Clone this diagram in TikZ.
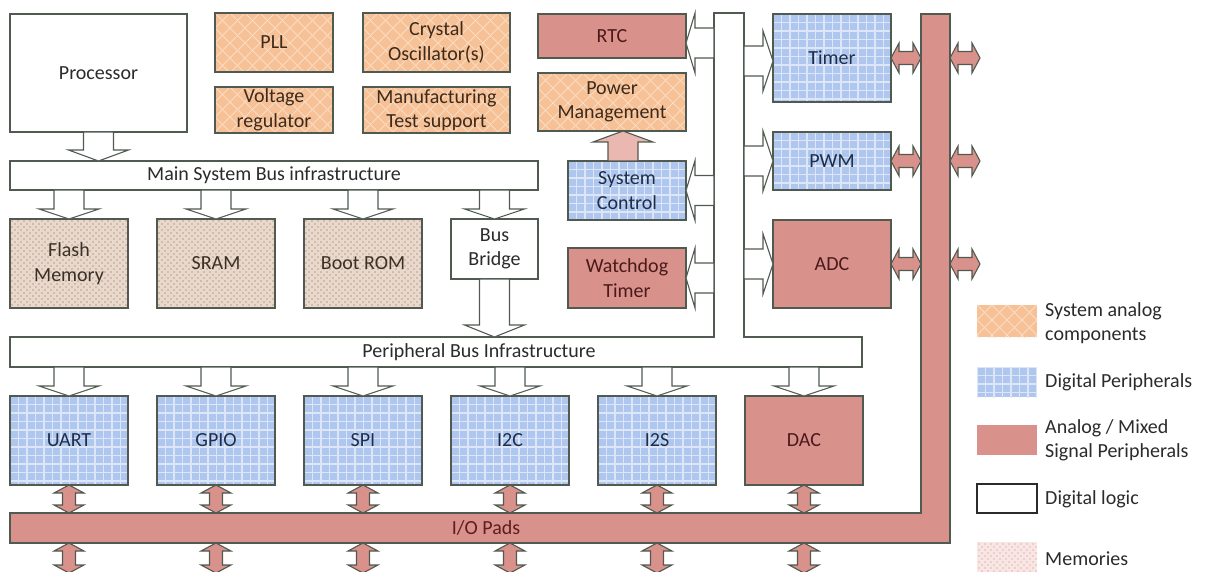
\documentclass[tikz,border=0pt]{standalone}
\usepackage{fontspec}
\setmainfont{Carlito}
\usetikzlibrary{calc}
\definecolor{bord}{HTML}{505A50}
\definecolor{anfill}{HTML}{D9918B}
\definecolor{orfill}{HTML}{F6C197}
\definecolor{orline}{HTML}{FBDCC2}
\definecolor{blfill}{HTML}{AFC7EE}
\definecolor{blline}{HTML}{DCE6F6}
\definecolor{memfill}{HTML}{E9D8CC}
\definecolor{memdot}{HTML}{BC9D8D}
\definecolor{lgmemfill}{HTML}{F8E6E4}
\definecolor{lgmemdot}{HTML}{E4B7B3}
\definecolor{pmarrow}{HTML}{EBB7B1}
\definecolor{txtdark}{HTML}{2B2B2B}
\definecolor{antext}{HTML}{4A1A1A}
\definecolor{ortext}{HTML}{3D2A1A}
\definecolor{bltext}{HTML}{1E2E4A}
\definecolor{memtext}{HTML}{3A3025}
\definecolor{iotext}{HTML}{5C1E1E}

\newcommand\hollowarrow[4][]{%
  \path #2 coordinate (hAs) #3 coordinate (hAe);
  \path ($(hAe)!#4!(hAs)$) coordinate (hAh);
  \draw[harrow,#1] ($(hAs)!15pt!90:(hAe)$) -- ($(hAh)!15pt!90:(hAe)$) -- ($(hAh)!30pt!90:(hAe)$) -- (hAe)
     -- ($(hAh)!30pt!-90:(hAe)$) -- ($(hAh)!15pt!-90:(hAe)$) -- ($(hAs)!15pt!-90:(hAe)$) -- cycle;}
\newcommand\dblarrow[2]{%
  \path #1 coordinate (dAs) #2 coordinate (dAe);
  \path ($(dAs)!8pt!(dAe)$) coordinate (dAa) ($(dAe)!8pt!(dAs)$) coordinate (dAb);
  \draw[parrow] (dAs) -- ($(dAa)!15pt!90:(dAe)$) -- ($(dAa)!6.5pt!90:(dAe)$) -- ($(dAb)!6.5pt!90:(dAe)$)
     -- ($(dAb)!15pt!90:(dAe)$) -- (dAe) -- ($(dAb)!15pt!-90:(dAe)$) -- ($(dAb)!6.5pt!-90:(dAe)$)
     -- ($(dAa)!6.5pt!-90:(dAe)$) -- ($(dAa)!15pt!-90:(dAe)$) -- cycle;}

\begin{document}
\begin{tikzpicture}[x=1pt,y=-1pt,
  every node/.style={font=\fontsize{20}{24.5}\selectfont},
  bnode/.style={inner sep=0pt, outer sep=0pt},
  busline/.style={draw=bord, line width=1.1pt},
  box/.style={draw=bord, line width=1.1pt, inner sep=0pt, outer sep=0pt, align=center},
  digl/.style={box, fill=white, text=txtdark},
  ana/.style={box, fill=anfill, text=antext},
  orpat/.style={fill=orfill, path picture={
     \foreach \i in {-135,-120,...,300}{
       \draw[orline, line width=0.9pt] ([xshift=\i pt]path picture bounding box.north west) -- ++(140,140);
       \draw[orline, line width=0.9pt] ([xshift=\i pt]path picture bounding box.north west) -- ++(-140,140);}}},
  blpat/.style={fill=blfill, path picture={
     \foreach \i in {0,8.5,...,160}{
       \draw[blline, line width=1.5pt] ([xshift=\i pt]path picture bounding box.north west) -- ++(0,130);
       \draw[blline, line width=1.5pt] ([yshift=-\i pt]path picture bounding box.north west) -- ++(160,0);}}},
  mempat/.style={fill=memfill, path picture={
     \foreach \xx in {2,8,...,128}{\foreach \yy in {2,8,...,98}{
       \fill[memdot] ([shift={(\xx pt,-\yy pt)}]path picture bounding box.north west) circle (0.8pt);
       \fill[memdot] ([shift={(\xx pt+3pt,-\yy pt-3pt)}]path picture bounding box.north west) circle (0.8pt);}}}},
  lgmempat/.style={fill=lgmemfill, path picture={
     \foreach \xx in {2,8,...,62}{\foreach \yy in {2,8,...,38}{
       \fill[lgmemdot] ([shift={(\xx pt,-\yy pt)}]path picture bounding box.north west) circle (0.8pt);
       \fill[lgmemdot] ([shift={(\xx pt+3pt,-\yy pt-3pt)}]path picture bounding box.north west) circle (0.8pt);}}}},
  sysa/.style={box, orpat, text=ortext},
  digp/.style={box, blpat, text=bltext},
  mem/.style={box, mempat, text=memtext},
  harrow/.style={draw=bord, line width=1.1pt, fill=white, line join=miter},
  parrow/.style={draw=bord, line width=1.1pt, fill=anfill, line join=miter},
  swatch/.style={inner sep=0pt, outer sep=0pt, minimum width=60pt},
  lgtext/.style={anchor=west, align=left, inner sep=0pt, text=txtdark}
]
\useasboundingbox[fill=white] (0,0) rectangle (1211,572);

% ---------- peripheral bus + vertical bus (one outline)
\node[bnode, minimum width=852pt, minimum height=30pt] (pbus) at (436,352) {};
\node[bnode, minimum width=30pt, minimum height=354pt] (vbus) at (729,190) {};
\draw[busline, fill=white] (pbus.north west) -- (vbus.west |- pbus.north) -- (vbus.north west) -- (vbus.north east)
   -- (vbus.east |- pbus.north) -- (pbus.north east) -- (pbus.south east) -- (pbus.south west) -- cycle;
\node[text=txtdark] (pbuslbl) at (479,352) {Peripheral Bus Infrastructure};

% ---------- I/O pads + right bar (one outline)
\node[bnode, minimum width=940pt, minimum height=30pt] (iopads) at (480,528) {};
\node[bnode, minimum width=29pt, minimum height=529pt] (rbar) at (935.5,278.5) {};
\draw[busline, fill=anfill] (iopads.north west) -- (rbar.west |- iopads.north) -- (rbar.north west) -- (rbar.north east)
   -- (rbar.south east) -- (iopads.south west) -- cycle;
\node[text=iotext] (iolbl) at (486,528) {I/O Pads};

% ---------- top-left blocks
\node[digl, minimum width=177pt, minimum height=118pt] (proc) at (98.5,73) {Processor};
\node[sysa, minimum width=118pt, minimum height=59pt] (pll) at (274,42.5) {PLL};
\node[sysa, minimum width=147pt, minimum height=59pt] (xtal) at (436.5,42.5) {Crystal\\Oscillator(s)};
\node[sysa, minimum width=118pt, minimum height=46pt] (vreg) at (274,110) {Voltage\\regulator};
\node[sysa, minimum width=147pt, minimum height=46pt] (mfg) at (436.5,110) {Manufacturing\\Test support};
\node[ana, minimum width=148pt, minimum height=44pt] (rtc) at (612,36) {RTC};
\node[sysa, minimum width=148pt, minimum height=58pt] (pm) at (612,102) {Power\\Management};
\node[digp, minimum width=118pt, minimum height=59pt] (sysc) at (627,190.5) {System\\Control};
\node[ana, minimum width=118pt, minimum height=60pt] (wdt) at (627,278) {Watchdog\\Timer};
\node[digp, minimum width=118pt, minimum height=88pt] (timer) at (832,58) {Timer};
\node[digp, minimum width=118pt, minimum height=58pt] (pwm) at (832,161) {PWM};
\node[ana, minimum width=118pt, minimum height=88pt] (adc) at (832,264) {ADC};

% ---------- main bus and memories
\node[digl, minimum width=528pt, minimum height=29pt] (mbus) at (274,175.5) {Main System Bus infrastructure};
\node[mem, minimum width=118pt, minimum height=89pt] (flash) at (69,263.5) {Flash\\Memory};
\node[mem, minimum width=118pt, minimum height=89pt] (sram) at (216,263.5) {SRAM};
\node[mem, minimum width=118pt, minimum height=89pt] (brom) at (363,263.5) {Boot ROM};
\node[digl, minimum width=87pt, minimum height=60pt] (bridge) at (494.5,249) {Bus\\Bridge};

% ---------- peripherals
\node[digp, minimum width=118pt, minimum height=89pt] (uart) at (69,440.5) {UART};
\node[digp, minimum width=118pt, minimum height=89pt] (gpio) at (216,440.5) {GPIO};
\node[digp, minimum width=118pt, minimum height=89pt] (spi) at (363,440.5) {SPI};
\node[digp, minimum width=118pt, minimum height=89pt] (itc) at (510,440.5) {I2C};
\node[digp, minimum width=118pt, minimum height=89pt] (its) at (657,440.5) {I2S};
\node[ana, minimum width=118pt, minimum height=89pt] (dac) at (804,440.5) {DAC};

% ---------- hollow block arrows
\hollowarrow{(proc.south)}{(proc.south |- mbus.north)}{11pt}
\foreach \n in {flash,sram,brom,bridge}{\hollowarrow{(\n.north |- mbus.south)}{(\n.north)}{10pt}}
\hollowarrow{(bridge.south)}{(bridge.south |- pbus.north)}{12pt}
\foreach \n in {uart,gpio,spi,itc,its,dac}{\hollowarrow{(\n.north |- pbus.south)}{(\n.north)}{10pt}}
\coordinate (rtcin) at ([yshift=-7pt]rtc.east);
\hollowarrow{(vbus.west |- rtcin)}{(rtcin)}{9pt}
\hollowarrow{(vbus.west |- sysc.east)}{(sysc.east)}{9pt}
\hollowarrow{(vbus.west |- wdt.east)}{(wdt.east)}{9pt}
\coordinate (tmin) at ([yshift=-3pt]timer.west);
\hollowarrow{(vbus.east |- tmin)}{(tmin)}{10pt}
\hollowarrow{(vbus.east |- pwm.west)}{(pwm.west)}{10pt}
\hollowarrow{(vbus.east |- adc.west)}{(adc.west)}{10pt}
\coordinate (scup) at ([xshift=-4pt]sysc.north);
\hollowarrow[fill=pmarrow]{(scup)}{(scup |- pm.south)}{11pt}

% ---------- pink double arrows
\foreach \n in {timer,pwm,adc}{
  \dblarrow{(\n.east)}{(\n.east -| rbar.west)}
  \coordinate (\n out) at ($(\n.east -| rbar.east)+(30,0)$);
  \dblarrow{(\n.east -| rbar.east)}{(\n out)}}
\foreach \n in {uart,gpio,spi,itc,its,dac}{
  \dblarrow{(\n.south)}{(\n.south |- iopads.north)}
  \coordinate (\n bot) at ($(\n.south |- iopads.south)+(0,30)$);
  \dblarrow{(\n.south |- iopads.south)}{(\n bot)}}

% ---------- legend
\node[swatch, orpat, minimum height=32pt] (lg1) at (1007,321) {};
\node[swatch, blpat, minimum height=30pt] (lg2) at (1007,382) {};
\node[swatch, fill=anfill, minimum height=30pt] (lg3) at (1007,440) {};
\node[swatch, draw=txtdark, line width=1.1pt, fill=white, minimum height=29pt] (lg4) at (1007,498.5) {};
\node[swatch, lgmempat, minimum height=32pt] (lg5) at (1007,558) {};
\node[lgtext] (lt1) at (1045,323) {System analog\\components};
\node[lgtext] (lt2) at (1045,382) {Digital Peripherals};
\node[lgtext] (lt3) at (1045,440.5) {Analog / Mixed\\Signal Peripherals};
\node[lgtext] (lt4) at (1045,499) {Digital logic};
\node[lgtext] (lt5) at (1045,559) {Memories};
\end{tikzpicture}
\end{document}
